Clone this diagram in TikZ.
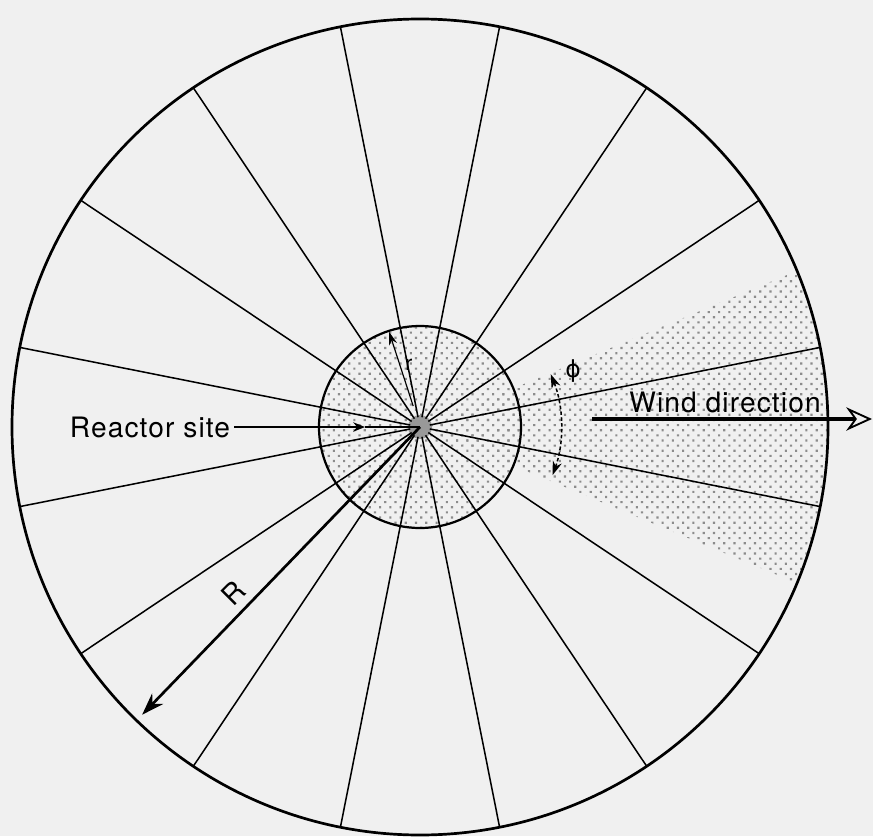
\documentclass[tikz,border=0pt]{standalone}
\usepackage{fontspec}
\setmainfont{TeX Gyre Heros}
\newfontfamily\greekfont{DejaVu Sans}
\usetikzlibrary{arrows.meta,patterns.meta}

\tikzset{
  spoke/.style={line width=1.3pt},
  dotfill/.style={pattern={Dots[distance=6.2pt, angle=45, radius=1.3pt]}, pattern color=black!45},
  tag/.style={font=\fontsize{24}{26}\selectfont\addfontfeature{LetterSpace=4}},
}

\begin{document}
\begin{tikzpicture}[>={Stealth}, x=0.03cm, y=0.03cm]
    \useasboundingbox[fill=black!6] (-420,-409) rectangle (453,427);
    \coordinate (hub) at (0,0);

    % shaded sector downwind and inner zone
    \fill[dotfill] (hub) -- (-22.5:407) arc[start angle=-22.5, end angle=22.5, radius=407] -- cycle;
    \fill[dotfill] (hub) circle[radius=101];
    \fill[black!40] (hub) circle[radius=12];

    % sector boundaries
    \foreach \a in {0,...,15}
        \draw[spoke] ({11.25+22.5*\a}:10) -- ({11.25+22.5*\a}:408);

    \draw[line width=1.9pt] (hub) circle[radius=101];
    \draw[line width=2.3pt] (hub) circle[radius=408];

    % reactor site
    \node[tag] (site) at (-270,0) {Reactor site};
    \coordinate (sitetip) at (-55,0);
    \draw[spoke, -{Stealth[length=10pt, width=8pt]}] (site.east) -- (sitetip);
    \draw[spoke] (sitetip) -- (hub);

    % wind
    \coordinate (wtail) at (172,8);
    \coordinate (whead) at (452,8);
    \draw[line width=3.2pt, -{Stealth[fill=black!6, length=22pt, width=20pt, line width=1.6pt]}] (wtail) -- (whead);
    \node[tag] (wind) at (305,25) {Wind direction};

    % outer radius
    \coordinate (redge) at (226:400);
    \draw[line width=2.3pt, -{Stealth[length=19pt, width=13pt]}] (hub) -- (redge);
    \node[tag, rotate=45] (rlab) at (-187,-166) {R};

    % sector angle
    \coordinate (phib) at (-20:141);
    \draw[spoke, densely dashed, {Stealth[length=12pt, width=8pt]}-{Stealth[length=12pt, width=8pt]}] (phib) arc[start angle=-20, end angle=22, radius=141];
    \node[font=\greekfont\fontsize{20}{22}\selectfont] (philab) at (153,56) {ϕ};

    % inner radius
    \coordinate (rin) at (108:22);
    \coordinate (rout) at (108:100);
    \draw[line width=1pt, -{Stealth[length=11pt, width=7pt]}] (rin) -- (rout);
    \node[font=\fontsize{18}{20}\selectfont] (rlabel) at (-11,62) {r};
\end{tikzpicture}
\end{document}
